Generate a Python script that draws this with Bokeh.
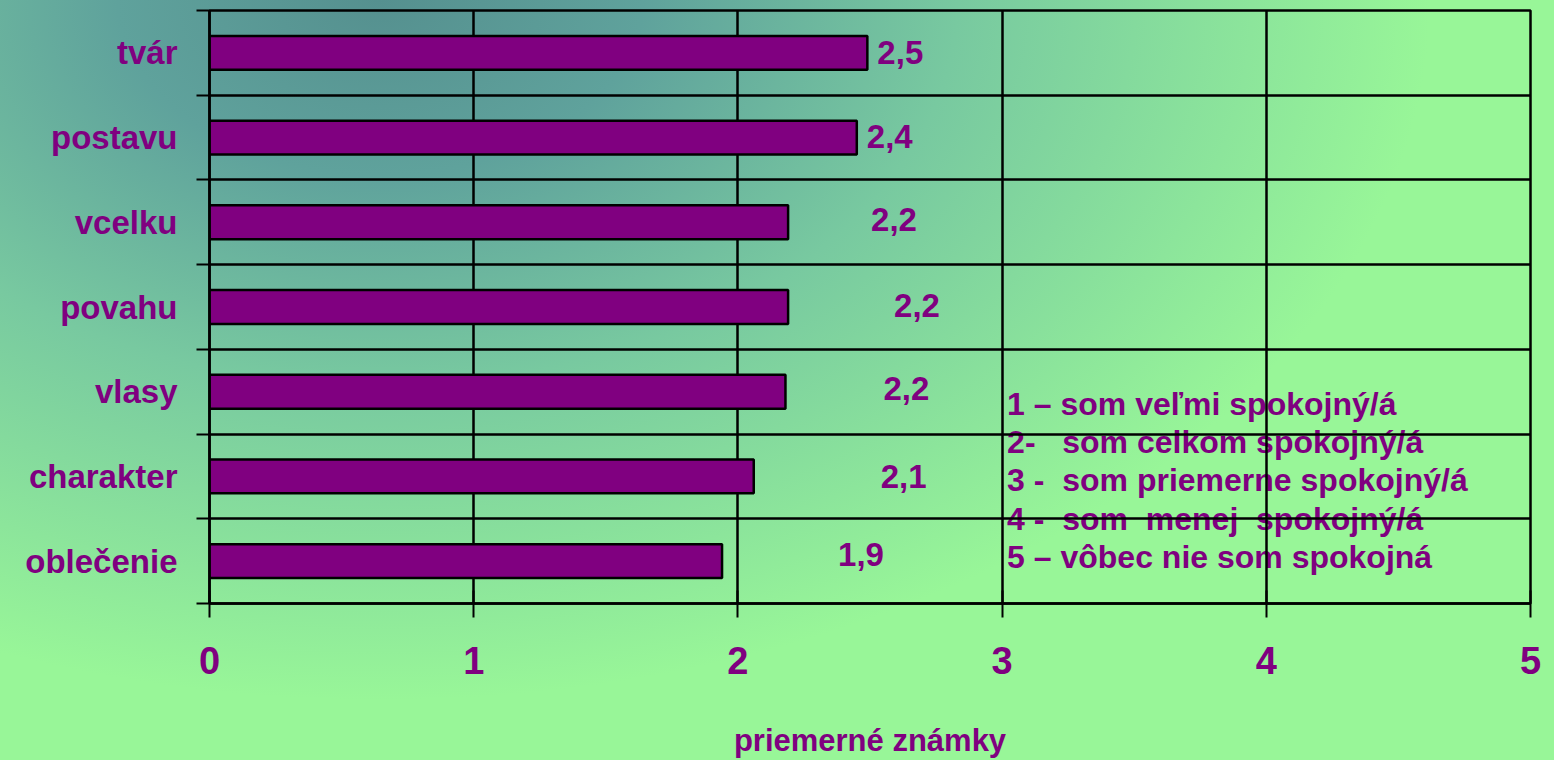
import re
from bokeh.plotting import figure
from bokeh.models import (FactorRange, Range1d, LinearAxis, Grid,
                          FixedTicker, ColumnDataSource, Label)
from bokeh.core.properties import value
from bokeh.embed import file_html
from bokeh.resources import INLINE

# ---- data ----
categories = ["tvár", "postavu", "vcelku", "povahu", "vlasy", "charakter", "oblečenie"]
values = [2.49, 2.45, 2.19, 2.19, 2.18, 2.06, 1.94]
value_labels = ["2,5", "2,4", "2,2", "2,2", "2,2", "2,1", "1,9"]
x_ticks = [0, 1, 2, 3, 4, 5]
scale_notes = [
    "1 – som veľmi spokojný/á",
    "2-   som celkom spokojný/á",
    "3 -  som priemerne spokojný/á",
    "4 -  som  menej  spokojný/á",
    "5 – vôbec nie som spokojná",
]
x_title = "priemerné známky"

# ---- label placement (pixels) ----
label_dx = [10, 10, 83, 106, 98, 127, 116]
label_dy = [0, -1, -3, -2, -3, 0, -7]

PURPLE = "#800080"
FONT = "Liberation Sans"
N = len(categories)
bounds = list(range(N + 1))   # category boundaries in the factor range's own units


def keep_spaces(s):
    # SVG collapses runs of spaces; keep the visual gaps with no-break spaces
    return re.sub(r"(?<= ) ", "\u00a0", s)


src = ColumnDataSource(dict(cat=categories, val=values, lbl=value_labels,
                            dx=label_dx, dy=label_dy))

p = figure(width=1554, height=760,
           x_range=Range1d(0, 5),
           y_range=FactorRange(factors=categories[::-1], range_padding=0, factor_padding=0),
           output_backend="svg", toolbar_location=None,
           min_border_left=209, min_border_right=24,
           min_border_top=10, min_border_bottom=157)

p.background_fill_color = None
p.border_fill_color = None
p.styles = {"background": "radial-gradient(ellipse 1050px 700px at 380px 0px, "
                          "#55908f 0%, #5fa29c 25%, #78c9a0 55%, #98f698 100%)"}
p.outline_line_color = "black"
p.outline_line_width = 2.5

# category axis (labels only)
cax = p.yaxis[0]
cax.major_tick_in = 0
cax.major_tick_out = 0
cax.axis_line_color = None
cax.major_label_standoff = 19
cax.major_label_text_font = FONT
cax.major_label_text_font_style = "bold"
cax.major_label_text_font_size = "33px"
cax.major_label_text_color = PURPLE
p.ygrid.visible = False

# boundary axis (ticks between categories), placed next to the frame
bax = LinearAxis(ticker=FixedTicker(ticks=bounds))
bax.major_label_overrides = {i: "" for i in bounds}
bax.major_label_text_font_size = "1px"
bax.major_label_standoff = 0
bax.major_tick_in = 0
bax.major_tick_out = 13
bax.major_tick_line_width = 2
bax.axis_line_width = 2.5
bax.minor_tick_in = 0
bax.minor_tick_out = 0
p.add_layout(bax, "left")
p.left = [bax, cax]

p.add_layout(Grid(dimension=1, ticker=FixedTicker(ticks=bounds),
                  grid_line_color="black", grid_line_width=2.5))

# x axis
xax = p.xaxis[0]
xax.ticker = FixedTicker(ticks=x_ticks)
xax.major_tick_in = 13
xax.major_tick_out = 14
xax.major_tick_line_width = 2
xax.axis_line_width = 2.5
xax.minor_tick_in = 0
xax.minor_tick_out = 0
xax.major_label_standoff = 29
xax.major_label_text_font = FONT
xax.major_label_text_font_style = "bold"
xax.major_label_text_font_size = "38px"
xax.major_label_text_color = PURPLE
xax.axis_label = x_title
xax.axis_label_text_font = FONT
xax.axis_label_text_font_style = "bold"
xax.axis_label_text_font_size = "31px"
xax.axis_label_text_color = PURPLE
xax.axis_label_standoff = 46

p.xgrid.grid_line_color = "black"
p.xgrid.grid_line_width = 2.5
p.xgrid.grid_line_alpha = 1

# bars
p.hbar(y="cat", right="val", left=0, height=0.4, source=src,
       fill_color=PURPLE, line_color="black", line_width=2.5)

# value labels
p.text(x="val", y="cat", text="lbl", x_offset="dx", y_offset="dy", source=src,
       text_font=value(FONT), text_font_style="bold",
       text_font_size="33px", text_color=PURPLE,
       text_baseline="middle", text_align="left")

# scale explanation (drawn beneath the grid lines, as in the reference)
for i, t in enumerate(scale_notes):
    p.add_layout(Label(x=3, x_offset=5, y=2.36 - 0.454 * i,
                       text=keep_spaces(t), level="image",
                       text_baseline="middle", text_align="left",
                       text_font=FONT, text_font_style="bold",
                       text_font_size="32px", text_color=PURPLE))

open("out.html", "w").write(file_html(p, INLINE))
